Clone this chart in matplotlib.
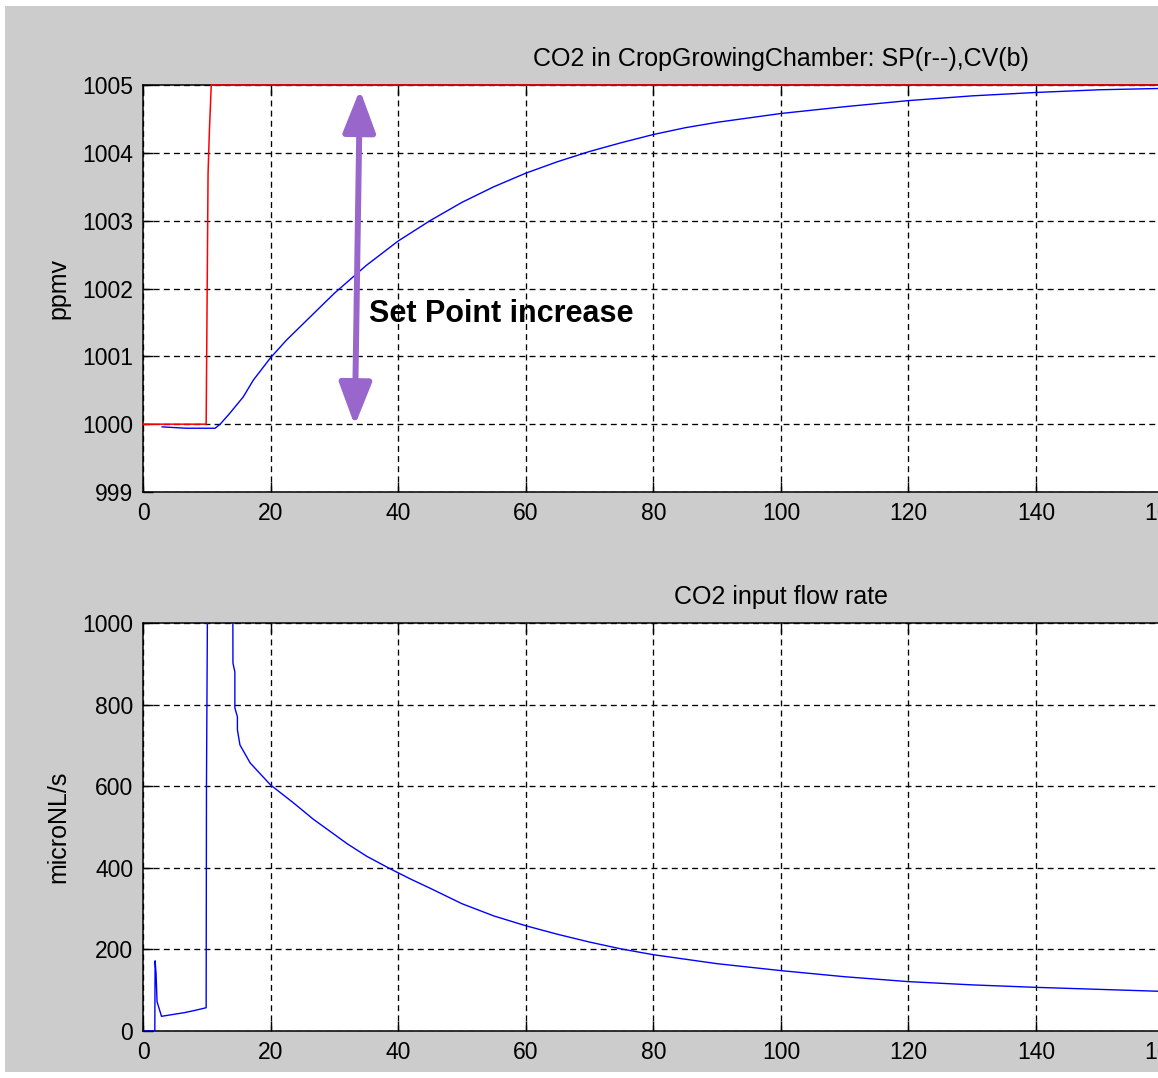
import numpy as np
import matplotlib.pyplot as plt
from matplotlib.patches import Rectangle

# data
sp_t = [0, 9.9, 10.2, 10.4, 10.7, 200]
sp_v = [1000, 1000, 1003.7, 1004.3, 1005, 1005]

cv_t = [3, 6.8, 11.3, 12.1, 13.6, 15.7, 17.3, 20, 22.5, 25, 30, 35, 40, 45, 50, 55, 60, 65, 70,
        75, 80, 85, 90, 100, 110, 120, 130, 140, 150, 160, 170, 180, 190, 200]
cv_v = [999.96, 999.94, 999.94, 1000.0, 1000.16, 1000.4, 1000.65, 1000.98, 1001.24, 1001.47,
        1001.93, 1002.34, 1002.70, 1003.00, 1003.27, 1003.5, 1003.70, 1003.87, 1004.02,
        1004.15, 1004.27, 1004.37, 1004.45, 1004.58, 1004.68, 1004.77, 1004.84, 1004.89,
        1004.93, 1004.95, 1004.97, 1004.98, 1004.99, 1004.99]

fl_t = [0, 1.85, 1.9, 2.05, 2.2, 2.9, 4.5, 6.5, 8, 9.9, 9.95, 10.2, 14.05, 14.1, 14.4, 14.4,
        14.8, 14.8, 15.2, 16.8, 20, 23.6, 26.7, 29.8, 32, 35.1, 38.7, 42, 45, 50, 55, 60, 65,
        70, 75, 80, 90, 100, 110, 120, 130, 140, 150, 160, 170, 180, 190, 200]
fl_v = [0, 0, 172, 140, 72, 36, 40, 45, 50, 57, 603, 1300, 1300, 902, 880, 792,
        770, 738, 701, 657, 603, 559, 519, 484, 459, 428, 398, 372, 350, 312, 282, 258, 237,
        218, 201, 187, 165, 148, 133, 121, 113, 107, 102, 97, 93, 89, 86, 83]

xticks = np.arange(0, 201, 20)
top_yticks = np.arange(999, 1006, 1)
bot_yticks = np.arange(0, 1001, 200)

plt.rcParams['font.family'] = ['Liberation Sans', 'DejaVu Sans']
fs = 16.5
tfs = 18

fig = plt.figure(figsize=(11.58, 10.78), dpi=100, facecolor='white')
fig.patches.append(Rectangle((5/1158, 6/1078), 1, 1 - 12/1078, transform=fig.transFigure,
                             facecolor='#cccccc', edgecolor='none', zorder=-10))

W = 200 * 6.379 / 1158
ax1 = fig.add_axes([143/1158, 1 - 492/1078, W, 407/1078])
ax2 = fig.add_axes([143/1158, 1 - 1031/1078, W, 408/1078])

grid_kw = dict(color='black', linestyle=(0, (4.5, 3.2)), linewidth=0.95)

for ax in (ax1, ax2):
    ax.set_facecolor('white')
    ax.set_xlim(0, 200)
    ax.set_xticks(xticks)
    ax.tick_params(direction='in', length=7, width=1, top=True, right=True,
                   labelsize=fs, pad=7)
    ax.grid(True, **grid_kw)
    for s in ax.spines.values():
        s.set_linewidth(1.1)

ax1.plot(sp_t, sp_v, color='red', lw=1.1, zorder=3, clip_on=False)
ax1.plot(cv_t, cv_v, color='blue', lw=1.0)
ax1.set_ylim(999, 1005)
ax1.set_yticks(top_yticks)
ax1.set_title('CO2 in CropGrowingChamber: SP(r--),CV(b)', fontsize=tfs, pad=14)
ax1.set_ylabel('ppmv', fontsize=tfs)
ax1.yaxis.set_label_coords(-0.057, 0.5)

ax1.annotate('', xy=(34.0, 1004.93), xytext=(33.2, 999.98),
             arrowprops=dict(arrowstyle='<|-|>,head_length=1.3,head_width=0.5',
                             color='#9966cc', lw=4.3, mutation_scale=20,
                             shrinkA=0, shrinkB=0))
ax1.text(35.4, 1001.62, 'Set Point increase', fontsize=22, fontweight='bold',
         va='center', ha='left')

ax2.plot(fl_t, fl_v, color='blue', lw=1.0, zorder=3)
ax2.set_ylim(0, 1000)
ax2.set_yticks(bot_yticks)
ax2.set_title('CO2 input flow rate', fontsize=tfs, pad=14)
ax2.set_ylabel('microNL/s', fontsize=tfs)
ax2.yaxis.set_label_coords(-0.057, 0.5)

fig.savefig('out.png', dpi=100, facecolor=fig.get_facecolor())
